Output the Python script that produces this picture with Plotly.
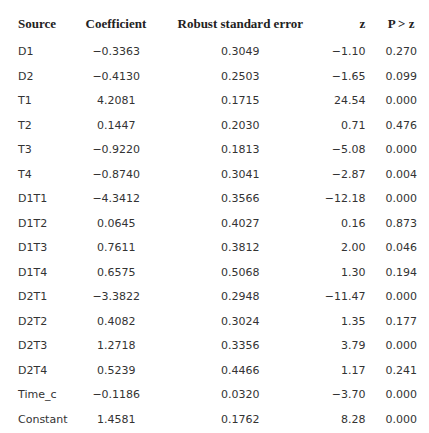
import plotly.graph_objects as go

sources = ["D1", "D2", "T1", "T2", "T3", "T4", "D1T1", "D1T2", "D1T3", "D1T4",
           "D2T1", "D2T2", "D2T3", "D2T4", "Time_c", "Constant"]
coef = ["−0.3363", "−0.4130", "4.2081", "0.1447", "−0.9220", "−0.8740", "−4.3412", "0.0645",
        "0.7611", "0.6575", "−3.3822", "0.4082", "1.2718", "0.5239", "−0.1186", "1.4581"]
robust_se = ["0.3049", "0.2503", "0.1715", "0.2030", "0.1813", "0.3041", "0.3566", "0.4027",
             "0.3812", "0.5068", "0.2948", "0.3024", "0.3356", "0.4466", "0.0320", "0.1762"]
z_vals = ["−1.10", "−1.65", "24.54", "0.71", "−5.08", "−2.87", "−12.18", "0.16",
          "2.00", "1.30", "−11.47", "1.35", "3.79", "1.17", "−3.70", "8.28"]
p_vals = ["0.270", "0.099", "0.000", "0.476", "0.000", "0.004", "0.000", "0.873",
          "0.046", "0.194", "0.000", "0.177", "0.000", "0.241", "0.000", "0.000"]
headers = ["Source", "Coefficient", "Robust standard error", "z", "P > z"]

fig = go.Figure(go.Table(
    columnwidth=[66, 82, 168, 50, 56],
    header=dict(
        values=["<b>%s</b>" % h for h in headers],
        align=["left", "center", "center", "right", "center"],
        font=dict(family="Liberation Serif", size=13, color="#222"),
        fill_color="white", line_color="white", height=24,
    ),
    cells=dict(
        values=[sources, coef, robust_se, z_vals, p_vals],
        align=["left", "center", "center", "right", "center"],
        font=dict(family="DejaVu Sans", size=11, color="#333"),
        fill_color="white", line_color="white", height=24.5,
    ),
))
fig.update_layout(width=429, height=433, margin=dict(l=2, r=8, t=0, b=0),
                  paper_bgcolor="white")
fig.write_html("out.html")
